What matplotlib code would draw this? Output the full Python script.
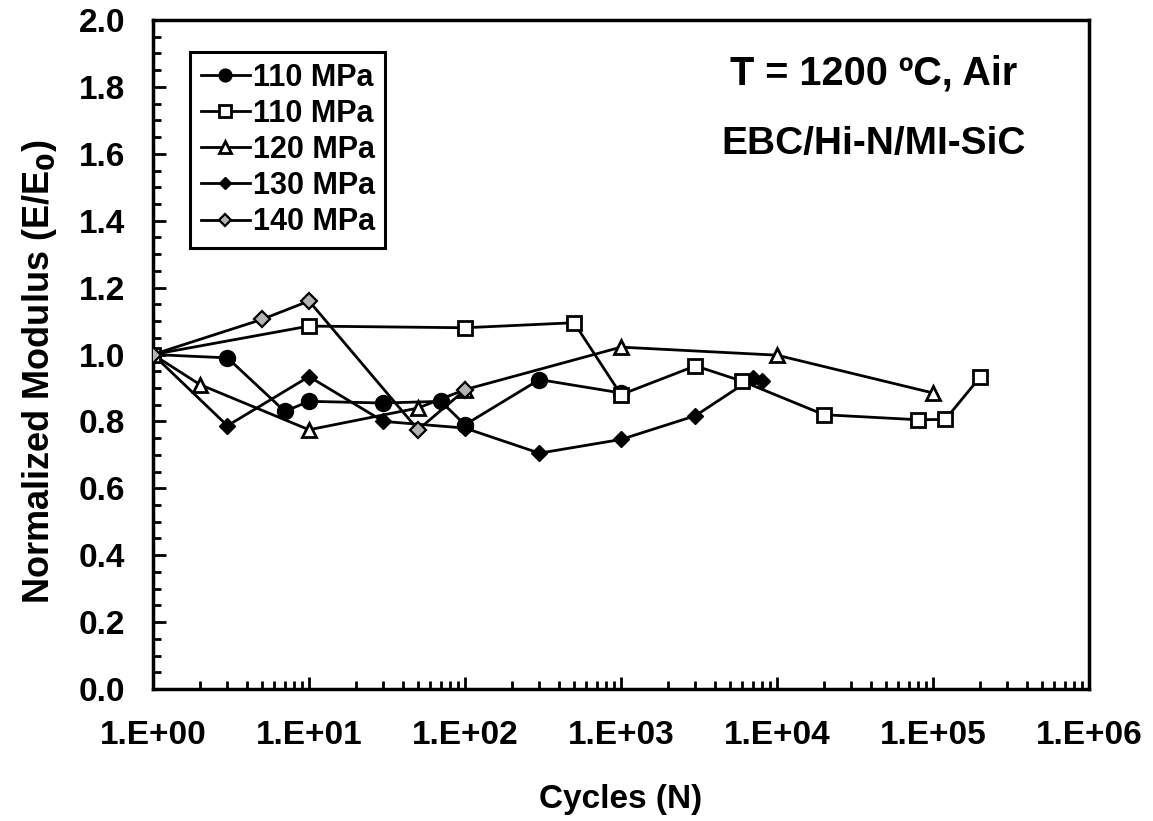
import math
import matplotlib.pyplot as plt
from matplotlib.ticker import FixedLocator, LogLocator, MultipleLocator, FuncFormatter, NullFormatter

plt.rcParams['font.family'] = ['Liberation Sans', 'DejaVu Sans']
plt.rcParams['font.weight'] = 'bold'
plt.rcParams['mathtext.default'] = 'bf'

# cycles and normalized modulus
n_110a = [1, 3, 7, 10, 30, 70, 100, 300, 1000]
e_110a = [1.0, 0.99, 0.83, 0.86, 0.855, 0.86, 0.79, 0.925, 0.885]

n_110b = [1, 10, 100, 500, 1000, 3000, 6000, 20000, 80000, 120000, 200000]
e_110b = [1.0, 1.085, 1.08, 1.095, 0.88, 0.966, 0.92, 0.82, 0.805, 0.806, 0.932]

n_120 = [1, 2, 10, 50, 100, 1000, 10000, 100000]
e_120 = [1.0, 0.91, 0.775, 0.84, 0.895, 1.022, 0.998, 0.885]

n_130 = [1, 3, 10, 30, 100, 300, 1000, 3000, 7000, 8000]
e_130 = [1.0, 0.787, 0.934, 0.80, 0.78, 0.705, 0.746, 0.817, 0.93, 0.92]

n_140 = [1, 5, 10, 50, 100]
e_140 = [1.0, 1.105, 1.16, 0.775, 0.894]

labels = ['110 MPa', '110 MPa', '120 MPa', '130 MPa', '140 MPa']
decades = [1, 10, 100, 1e3, 1e4, 1e5, 1e6]

fig = plt.figure(figsize=(11.53, 8.21), dpi=100)
ax = fig.add_axes([0.1327, 0.1608, 0.8118, 0.8148])

lw = 2.0
ax.plot(n_110a, e_110a, '-o', color='black', lw=lw, ms=11.5, mfc='black', mec='black', label=labels[0], zorder=3)
ax.plot(n_110b, e_110b, '-s', color='black', lw=lw, ms=10.5, mfc='white', mec='black', mew=2, label=labels[1], zorder=4)
ax.plot(n_120, e_120, '-^', color='black', lw=lw, ms=10.5, mfc='white', mec='black', mew=2, label=labels[2], zorder=3)
ax.plot(n_130, e_130, '-D', color='black', lw=lw, ms=8, mfc='black', mec='black', label=labels[3], zorder=3)
ax.plot(n_140, e_140, '-D', color='black', lw=lw, ms=8, mfc='#b3b3b3', mec='black', mew=1.6, label=labels[4], zorder=5)

ax.set_xscale('log')
ax.set_xlim(1, 1e6)
ax.set_ylim(0, 2.0)

ax.xaxis.set_major_locator(FixedLocator(decades))
ax.xaxis.set_minor_locator(LogLocator(base=10, subs=range(2, 10), numticks=20))
ax.xaxis.set_major_formatter(FuncFormatter(lambda v, p: '1.E+%02d' % round(math.log10(v))))
ax.xaxis.set_minor_formatter(NullFormatter())
ax.yaxis.set_major_locator(MultipleLocator(0.2))
ax.yaxis.set_minor_locator(MultipleLocator(0.05))
ax.yaxis.set_major_formatter(FuncFormatter(lambda v, p: '%.1f' % v))

ax.tick_params(which='both', direction='in', width=2, labelsize=24)
ax.tick_params(which='major', length=9)
ax.tick_params(which='minor', length=6)
ax.tick_params(axis='y', which='major', pad=20)
ax.tick_params(axis='x', which='major', pad=22)
ax.tick_params(top=False, right=False, which='both')
for s in ax.spines.values():
    s.set_linewidth(2.5)

ax.set_xlabel('Cycles (N)', fontsize=24, fontweight='bold', labelpad=24)
ax.set_ylabel('Normalized Modulus (E/E$_0$)', fontsize=26, fontweight='bold')
ax.yaxis.set_label_coords(-0.1, 0.475)

ax.text(0.77, 0.92, 'T = 1200 ºC, Air', transform=ax.transAxes, ha='center', va='center', fontsize=28.5, fontweight='bold')
ax.text(0.77, 0.815, 'EBC/Hi-N/MI-SiC', transform=ax.transAxes, ha='center', va='center', fontsize=28, fontweight='bold')

leg = ax.legend(loc='upper left', bbox_to_anchor=(0.0395, 0.952), borderaxespad=0, fontsize=22,
                handlelength=1.6, handletextpad=0.1, markerscale=0.8, labelspacing=0.2,
                fancybox=False, edgecolor='black', framealpha=1, borderpad=0.35)
leg.get_frame().set_linewidth(2.2)
for t in leg.get_texts():
    t.set_fontweight('bold')

fig.savefig('out.png', dpi=100)
